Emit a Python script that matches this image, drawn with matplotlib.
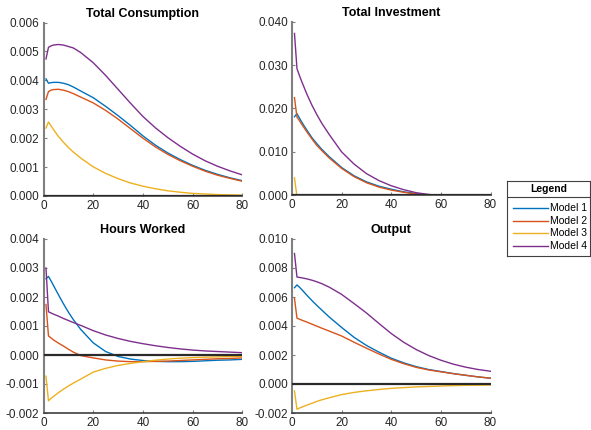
import matplotlib
matplotlib.use("Agg")
import matplotlib.pyplot as plt
import numpy as np
from matplotlib.ticker import FormatStrFormatter

plt.rcParams['font.family'] = ['Liberation Sans', 'DejaVu Sans']

# ---------------- data ----------------
models = ["Model 1", "Model 2", "Model 3", "Model 4"]
colors = ["#0072BD", "#D95319", "#EDB120", "#7E2F8E"]
periods = [1, 2, 3, 4, 6, 8, 10, 12, 15, 20, 25, 30, 35, 40, 45, 50, 55, 60, 65, 70, 75, 80]

# Total Consumption (values in 1e-3)
cons_m1 = [4.05, 3.90, 3.92, 3.93, 3.93, 3.90, 3.85, 3.77, 3.63, 3.40, 3.10, 2.78, 2.44, 2.08, 1.76, 1.49, 1.26, 1.06, 0.89, 0.75, 0.63, 0.53]
cons_m2 = [3.34, 3.61, 3.66, 3.68, 3.69, 3.66, 3.61, 3.54, 3.42, 3.22, 2.96, 2.66, 2.33, 2.00, 1.70, 1.44, 1.22, 1.03, 0.86, 0.72, 0.61, 0.51]
cons_m3 = [2.35, 2.56, 2.43, 2.30, 2.06, 1.86, 1.68, 1.52, 1.31, 1.01, 0.78, 0.60, 0.45, 0.34, 0.25, 0.18, 0.13, 0.09, 0.07, 0.05, 0.04, 0.03]
cons_m4 = [4.74, 5.14, 5.19, 5.22, 5.24, 5.22, 5.17, 5.12, 4.96, 4.61, 4.17, 3.69, 3.21, 2.75, 2.36, 2.02, 1.72, 1.45, 1.22, 1.03, 0.87, 0.73]

# Total Investment (values in 1e-2)
inv_m1 = [1.81, 1.88, 1.78, 1.68, 1.50, 1.33, 1.19, 1.06, 0.89, 0.64, 0.45, 0.31, 0.21, 0.14, 0.08, 0.04, 0.01, -0.005, -0.015, -0.02, -0.02, -0.02]
inv_m2 = [2.25, 1.80, 1.72, 1.63, 1.46, 1.30, 1.15, 1.03, 0.86, 0.62, 0.43, 0.29, 0.19, 0.12, 0.07, 0.03, 0.005, -0.01, -0.02, -0.025, -0.025, -0.025]
inv_m3 = [0.40, -0.03, -0.03, -0.03, -0.03, -0.03, -0.03, -0.025, -0.025, -0.02, -0.02, -0.015, -0.015, -0.01, -0.01, -0.01, -0.005, -0.005, -0.005, 0.0, 0.0, 0.0]
inv_m4 = [3.73, 2.92, 2.76, 2.61, 2.33, 2.08, 1.86, 1.66, 1.40, 1.00, 0.72, 0.50, 0.34, 0.22, 0.13, 0.06, 0.02, -0.01, -0.02, -0.03, -0.035, -0.04]

# Hours Worked (values in 1e-3)
hrs_m1 = [2.63, 2.71, 2.56, 2.40, 2.08, 1.77, 1.48, 1.22, 0.88, 0.42, 0.12, -0.05, -0.14, -0.19, -0.22, -0.23, -0.23, -0.22, -0.20, -0.18, -0.17, -0.15]
hrs_m2 = [1.74, 0.66, 0.59, 0.52, 0.41, 0.31, 0.20, 0.10, -0.02, -0.10, -0.17, -0.21, -0.23, -0.23, -0.22, -0.21, -0.19, -0.17, -0.15, -0.13, -0.12, -0.10]
hrs_m3 = [-0.73, -1.58, -1.50, -1.43, -1.30, -1.18, -1.07, -0.97, -0.83, -0.59, -0.46, -0.36, -0.29, -0.23, -0.18, -0.14, -0.11, -0.09, -0.075, -0.065, -0.055, -0.05]
hrs_m4 = [3.00, 1.49, 1.45, 1.41, 1.34, 1.26, 1.19, 1.12, 1.02, 0.84, 0.69, 0.57, 0.47, 0.39, 0.32, 0.26, 0.21, 0.17, 0.14, 0.12, 0.10, 0.08]

# Output (values in 1e-3)
out_m1 = [6.64, 6.83, 6.68, 6.50, 6.12, 5.76, 5.42, 5.10, 4.62, 3.90, 3.22, 2.66, 2.20, 1.78, 1.46, 1.20, 1.00, 0.86, 0.72, 0.60, 0.49, 0.40]
out_m2 = [5.91, 4.54, 4.47, 4.40, 4.27, 4.13, 3.99, 3.85, 3.65, 3.31, 2.88, 2.47, 2.07, 1.70, 1.40, 1.15, 0.97, 0.84, 0.71, 0.60, 0.49, 0.40]
out_m3 = [-0.48, -1.74, -1.66, -1.59, -1.46, -1.33, -1.20, -1.09, -0.95, -0.73, -0.58, -0.47, -0.38, -0.30, -0.25, -0.20, -0.17, -0.14, -0.11, -0.09, -0.08, -0.07]
out_m4 = [9.00, 7.38, 7.35, 7.32, 7.25, 7.16, 7.05, 6.92, 6.68, 6.18, 5.55, 4.90, 4.18, 3.48, 2.88, 2.38, 1.97, 1.64, 1.37, 1.16, 1.00, 0.88]

titles = ["Total Consumption", "Total Investment", "Hours Worked", "Output"]
xticks = [0, 20, 40, 60, 80]

panels = [
    (titles[0], [cons_m1, cons_m2, cons_m3, cons_m4], 1e-3, (0.0, 0.006), np.arange(0, 0.0061, 0.001)),
    (titles[1], [inv_m1, inv_m2, inv_m3, inv_m4], 1e-2, (0.0, 0.040), np.arange(0, 0.041, 0.01)),
    (titles[2], [hrs_m1, hrs_m2, hrs_m3, hrs_m4], 1e-3, (-0.002, 0.004), np.arange(-0.002, 0.0041, 0.001)),
    (titles[3], [out_m1, out_m2, out_m3, out_m4], 1e-3, (-0.002, 0.010), np.arange(-0.002, 0.0101, 0.002)),
]

# ---------------- figure ----------------
W, H = 591, 430
fig = plt.figure(figsize=(W / 100, H / 100), dpi=100)

# axes boxes in pixels: left, top, right, bottom
boxes = [
    (43.5, 22.5, 242.3, 196.0),
    (292.0, 21.7, 490.5, 195.3),
    (43.5, 239.0, 242.3, 413.0),
    (292.0, 239.0, 490.5, 413.0),
]

axis_col = "#262626"
for (title, series, scale, ylim, yt), (l, t, r, b) in zip(panels, boxes):
    ax = fig.add_axes([l / W, 1 - b / H, (r - l) / W, (b - t) / H])
    for vals, c, name in zip(series, colors, models):
        ax.plot(periods, np.array(vals) * scale, color=c, lw=1.0, label=name)
    ax.axhline(0, color="#2a2a2a", lw=1.6, zorder=5)
    ax.set_xlim(0, 80)
    ax.set_ylim(*ylim)
    ax.set_xticks(xticks)
    ax.set_yticks(yt)
    ax.yaxis.set_major_formatter(FormatStrFormatter("%.3f"))
    ax.spines["top"].set_visible(False)
    ax.spines["right"].set_visible(False)
    ax.spines["left"].set_color("#808080")
    ax.spines["left"].set_linewidth(1.5)
    ax.spines["bottom"].set_color("#404040")
    ax.spines["bottom"].set_linewidth(1.2)
    ax.tick_params(direction="in", length=2.5, width=0.8, colors="#808080",
                   labelcolor=axis_col, labelsize=8.5, pad=3)
    ax.set_title(title, fontsize=9, fontweight="bold", color="#000000", pad=4)

# ---------------- legend (drawn in its own axes, pixel coords) ----------------
lx0, ly0, lx1, ly1 = 507.0, 181.0, 590.0, 255.5
lax = fig.add_axes([lx0 / W, 1 - ly1 / H, (lx1 - lx0) / W, (ly1 - ly0) / H])
lax.set_xlim(0, lx1 - lx0)
lax.set_ylim(ly1 - ly0, 0)
lax.set_xticks([])
lax.set_yticks([])
for s in lax.spines.values():
    s.set_color("#404040")
    s.set_linewidth(0.8)
lax.text((lx1 - lx0) / 2, 8.5, "Legend", ha="center", va="center",
         fontsize=7.5, fontweight="bold", color="#000000")
lax.plot([0, lx1 - lx0], [15.7, 15.7], color="#404040", lw=0.8)
entry_y = [26.7, 39.5, 52.0, 64.8]
for name, c, yy in zip(models, colors, entry_y):
    lax.plot([5.7, 40.7], [yy, yy], color=c, lw=1.0)
    lax.text(43.0, yy, name, ha="left", va="center", fontsize=7.5, color="#000000")

fig.savefig("out.png", dpi=100)
